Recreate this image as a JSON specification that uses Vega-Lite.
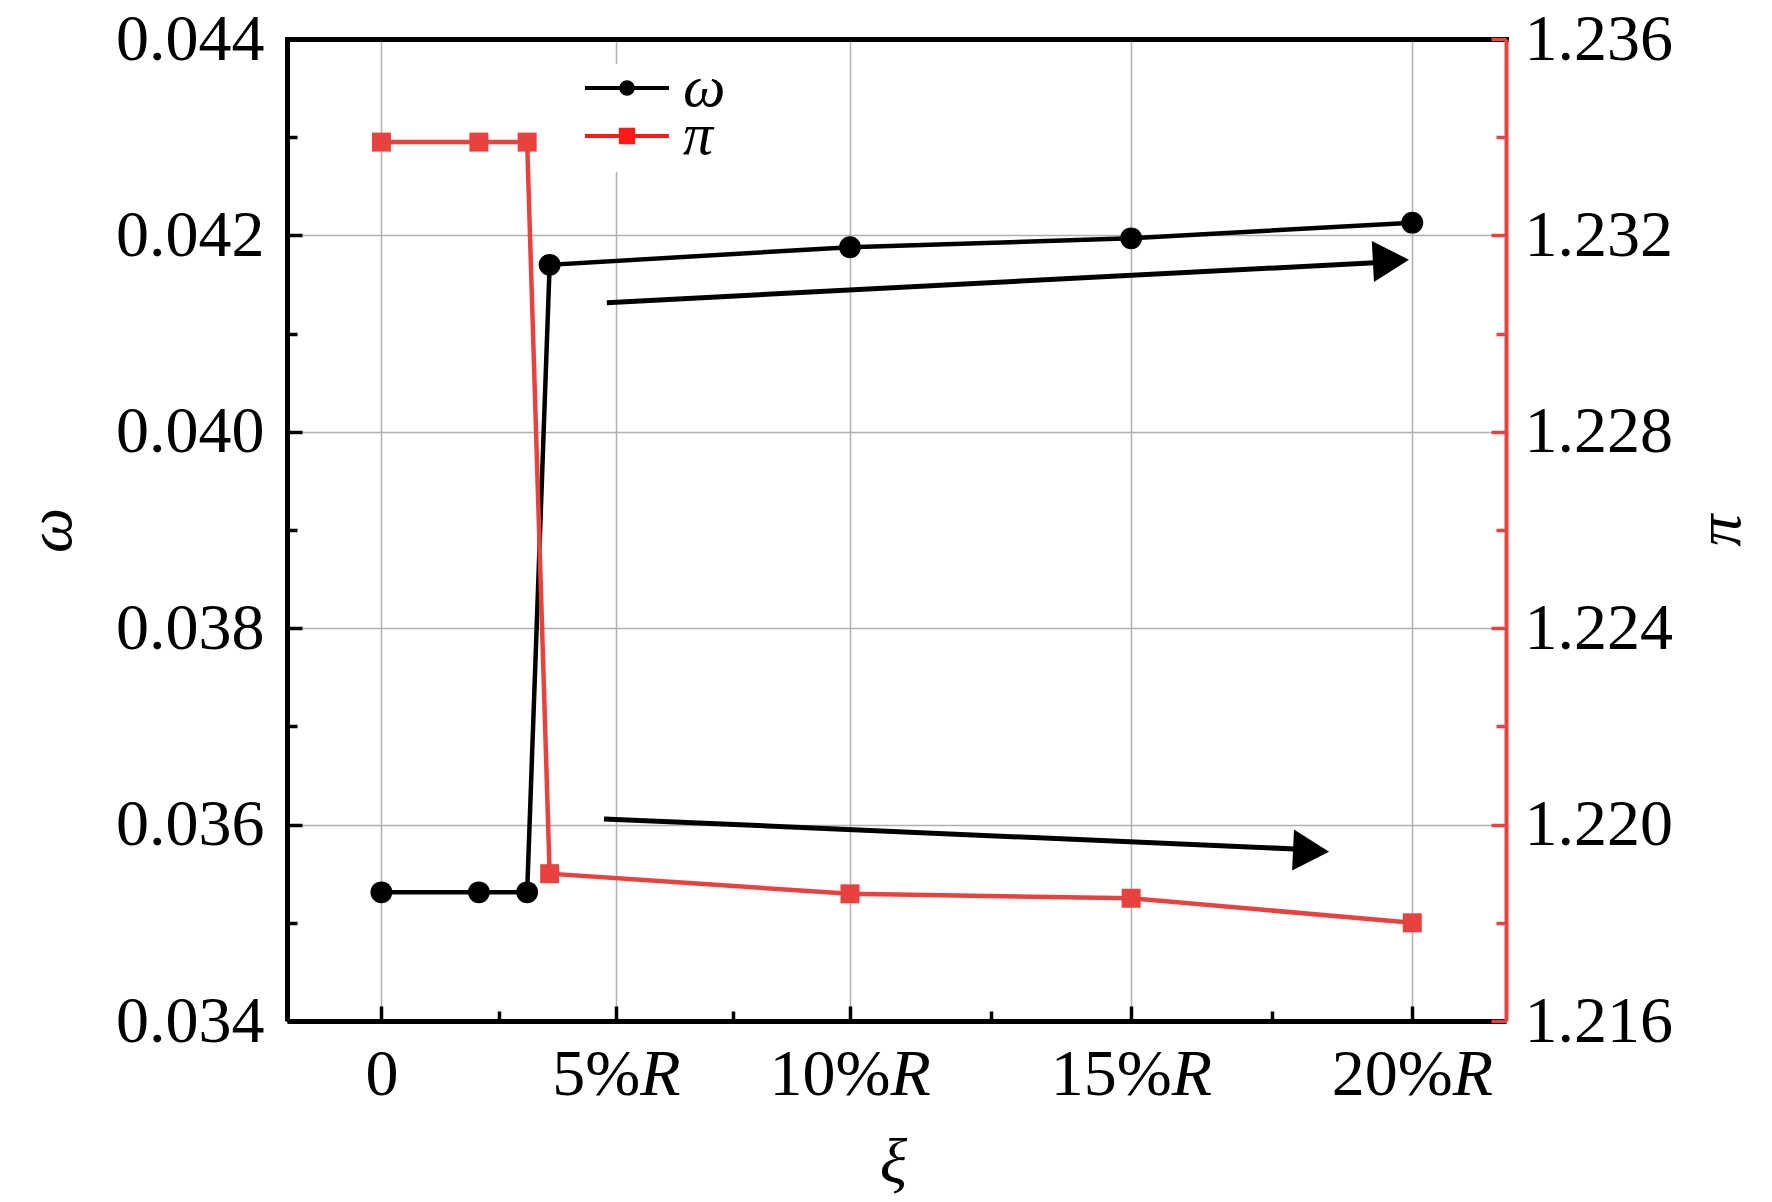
{
  "$schema": "https://vega.github.io/schema/vega-lite/v6.json",
  "width": 1219,
  "height": 982,
  "autosize": {"type": "none"},
  "padding": {"left": 287, "top": 39, "right": 266, "bottom": 181},
  "background": "white",
  "config": {
    "view": {"stroke": null},
    "font": "Liberation Serif",
    "axis": {"labelFont": "Liberation Serif", "titleFont": "Liberation Serif", "labelColor": "black", "titleColor": "black", "titleFontWeight": "normal", "labelFlush": false, "labelOverlap": false},
    "legend": {"orient": "none", "legendX": 290, "legendY": 25, "title": null,
      "symbolSize": 7056, "symbolStrokeWidth": 3.8, "symbolOpacity": 1, "clipHeight": 36, "rowPadding": -40,
      "labelFont": "Liberation Serif", "labelFontStyle": "italic", "labelFontSize": 60, "labelColor": "black",
      "labelOffset": 12, "fillColor": "white", "padding": 6}
  },
  "datasets": {
    "main": [
      {"xi": 0, "omega": 0.03531, "pi": 1.2339},
      {"xi": 2.08, "omega": 0.03531, "pi": 1.2339},
      {"xi": 3.11, "omega": 0.03531, "pi": 1.2339},
      {"xi": 3.59, "omega": 0.0417, "pi": 1.219},
      {"xi": 10, "omega": 0.04188, "pi": 1.21859},
      {"xi": 15, "omega": 0.04197, "pi": 1.2185},
      {"xi": 20, "omega": 0.04213, "pi": 1.218}
    ],
    "arrows": [
      {"arrow": "upper", "part": "tail", "xi": 4.81, "omega": 0.041315},
      {"arrow": "upper", "part": "shaft", "xi": 19.33, "omega": 0.041722},
      {"arrow": "upper", "part": "head", "xi": 19.62, "omega": 0.041743},
      {"arrow": "lower", "part": "tail", "xi": 4.75, "omega": 0.036058},
      {"arrow": "lower", "part": "shaft", "xi": 17.91, "omega": 0.035752},
      {"arrow": "lower", "part": "head", "xi": 18.2, "omega": 0.035732}
    ],
    "series": [
      {"series": "ω"},
      {"series": "π"}
    ]
  },
  "resolve": {"scale": {"y": "independent"}, "axis": {"x": "independent", "y": "independent"}},
  "layer": [
    {
      "data": {"name": "main"},
      "mark": {"type": "line", "color": "black", "strokeWidth": 4.5},
      "encoding": {
        "x": {"field": "xi", "type": "quantitative",
          "scale": {"domain": [-2.015, 10, 21.667], "range": [0, 563, 1219], "nice": false, "zero": false},
          "axis": {"orient": "bottom", "values": [0, 5, 10, 15, 20], "labelExpr": "datum.value == 0 ? '0' : datum.value + '%'",
            "labelAlign": {"expr": "datum.value == 0 ? 'center' : 'right'"},
            "labelOffset": {"expr": "datum.value == 0 ? 0 : datum.value == 5 ? 24 : 40"},
            "tickSize": -15, "tickWidth": 3.5, "tickColor": "black", "domainColor": "black", "domainWidth": 5,
            "grid": true, "gridColor": "#b0b0b0", "gridWidth": 1.5, "labelFontSize": 66, "labelPadding": 36,
            "title": "ξ", "titleFontSize": 64, "titleFontStyle": "italic", "titleX": 606, "titleY": 142,
            "titleAlign": "center", "titleBaseline": "middle", "zindex": 0}},
        "y": {"field": "omega", "type": "quantitative",
          "scale": {"domain": [0.034, 0.044], "nice": false, "zero": false},
          "axis": {"orient": "left", "values": [0.034, 0.036, 0.038, 0.04, 0.042, 0.044], "format": ".3f",
            "tickSize": -15, "tickWidth": 3.5, "tickColor": "black", "domainColor": "black", "domainWidth": 5,
            "grid": true, "gridColor": "#b0b0b0", "gridWidth": 1.5, "labelFontSize": 66, "labelPadding": 38,
            "title": "ω", "titleFontSize": 64, "titleFontStyle": "italic", "titleX": -236, "titleY": 491,
            "titleAlign": "center", "titleBaseline": "middle", "titleAngle": 270, "zindex": 0}}
      }
    },
    {
      "data": {"name": "main"},
      "mark": {"type": "point", "shape": "circle", "filled": true, "opacity": 1, "color": "black", "size": 480},
      "encoding": {
        "x": {"field": "xi", "type": "quantitative",
          "scale": {"domain": [-2.015, 10, 21.667], "range": [0, 563, 1219], "nice": false, "zero": false},
          "axis": {"orient": "bottom", "values": [2.5, 7.5, 12.5, 17.5], "labels": false, "domain": false, "grid": false,
            "tickSize": -10, "tickWidth": 3.5, "tickColor": "black", "title": null, "zindex": 1}},
        "y": {"field": "omega", "type": "quantitative",
          "scale": {"domain": [0.034, 0.044], "nice": false, "zero": false},
          "axis": {"orient": "left", "values": [0.035, 0.037, 0.039, 0.041, 0.043], "labels": false, "domain": false, "grid": false,
            "tickSize": -10, "tickWidth": 3.5, "tickColor": "black", "title": null, "zindex": 1}}
      }
    },
    {
      "data": {"name": "main"},
      "mark": {"type": "line", "color": "#e8423f", "strokeWidth": 4.5},
      "encoding": {
        "x": {"field": "xi", "type": "quantitative",
          "scale": {"domain": [-2.015, 10, 21.667], "range": [0, 563, 1219], "nice": false, "zero": false},
          "axis": {"orient": "top", "labels": false, "ticks": false, "grid": false, "values": [],
            "domain": true, "domainColor": "black", "domainWidth": 5, "domainCap": "square", "title": null, "zindex": 1}},
        "y": {"field": "pi", "type": "quantitative",
          "scale": {"domain": [1.216, 1.236], "nice": false, "zero": false},
          "axis": {"orient": "right", "values": [1.216, 1.22, 1.224, 1.228, 1.232, 1.236], "format": ".3f",
            "tickSize": -15, "tickWidth": 3.5, "tickColor": "#e8423f", "domainColor": "#e8423f", "domainWidth": 4,
            "grid": false, "labelFontSize": 66, "labelPadding": 33,
            "title": "π", "titleFontSize": 64, "titleFontStyle": "italic", "titleX": 214, "titleY": 491,
            "titleAlign": "center", "titleBaseline": "middle", "titleAngle": 270, "zindex": 1}}
      }
    },
    {
      "data": {"name": "main"},
      "mark": {"type": "point", "shape": "square", "filled": true, "opacity": 1, "color": "#e8423f", "size": 361},
      "encoding": {
        "x": {"field": "xi", "type": "quantitative",
          "scale": {"domain": [-2.015, 10, 21.667], "range": [0, 563, 1219], "nice": false, "zero": false},
          "axis": {"orient": "bottom", "values": [5, 10, 15, 20], "labelExpr": "'R'", "labelFontStyle": "italic",
            "labelAlign": "left", "labelOffset": {"expr": "datum.value == 5 ? 24 : 40"},
            "ticks": true, "tickSize": -15, "tickOpacity": 0, "domain": false, "grid": false,
            "labelFontSize": 66, "labelPadding": 36, "title": null, "zindex": 1}},
        "y": {"field": "pi", "type": "quantitative",
          "scale": {"domain": [1.216, 1.236], "nice": false, "zero": false},
          "axis": {"orient": "right", "values": [1.218, 1.222, 1.226, 1.23, 1.234], "labels": false, "domain": false, "grid": false,
            "tickSize": -10, "tickWidth": 3.5, "tickColor": "#e8423f", "title": null, "zindex": 1}}
      }
    },
    {
      "data": {"name": "arrows"},
      "transform": [{"filter": "datum.part != 'head'"}],
      "mark": {"type": "line", "color": "black", "strokeWidth": 5},
      "encoding": {
        "x": {"field": "xi", "type": "quantitative",
          "scale": {"domain": [-2.015, 10, 21.667], "range": [0, 563, 1219], "nice": false, "zero": false}, "axis": null},
        "y": {"field": "omega", "type": "quantitative",
          "scale": {"domain": [0.034, 0.044], "nice": false, "zero": false}, "axis": null},
        "detail": {"field": "arrow"}
      }
    },
    {
      "data": {"name": "arrows"},
      "transform": [{"filter": "datum.part == 'head' && datum.arrow == 'upper'"}],
      "mark": {"type": "point", "shape": "M0.88,0L-0.88,-1L-0.88,1Z", "filled": true, "opacity": 1, "color": "black", "size": 1681, "angle": -3},
      "encoding": {
        "x": {"field": "xi", "type": "quantitative",
          "scale": {"domain": [-2.015, 10, 21.667], "range": [0, 563, 1219], "nice": false, "zero": false}, "axis": null},
        "y": {"field": "omega", "type": "quantitative",
          "scale": {"domain": [0.034, 0.044], "nice": false, "zero": false}, "axis": null}
      }
    },
    {
      "data": {"name": "arrows"},
      "transform": [{"filter": "datum.part == 'head' && datum.arrow == 'lower'"}],
      "mark": {"type": "point", "shape": "M0.88,0L-0.88,-1L-0.88,1Z", "filled": true, "opacity": 1, "color": "black", "size": 1681, "angle": 2.6},
      "encoding": {
        "x": {"field": "xi", "type": "quantitative",
          "scale": {"domain": [-2.015, 10, 21.667], "range": [0, 563, 1219], "nice": false, "zero": false}, "axis": null},
        "y": {"field": "omega", "type": "quantitative",
          "scale": {"domain": [0.034, 0.044], "nice": false, "zero": false}, "axis": null}
      }
    },
    {
      "data": {"name": "series"},
      "transform": [{"filter": "false"}],
      "mark": {"type": "point", "filled": false, "strokeWidth": 3.8},
      "encoding": {
        "shape": {"field": "series", "type": "nominal",
          "scale": {"domain": ["ω", "π"], "range": ["M-1,0H1M-0.14,0A0.14,0.14 0 1,0 0.14,0A0.14,0.14 0 1,0 -0.14,0Z", "M-1,0H1M-0.15,-0.15H0.15V0.15H-0.15Z"]}},
        "fill": {"field": "series", "type": "nominal",
          "scale": {"domain": ["ω", "π"], "range": ["#000000", "#ff1a1a"]}},
        "stroke": {"field": "series", "type": "nominal",
          "scale": {"domain": ["ω", "π"], "range": ["#000000", "#ff1a1a"]}}
      }
    }
  ]
}
